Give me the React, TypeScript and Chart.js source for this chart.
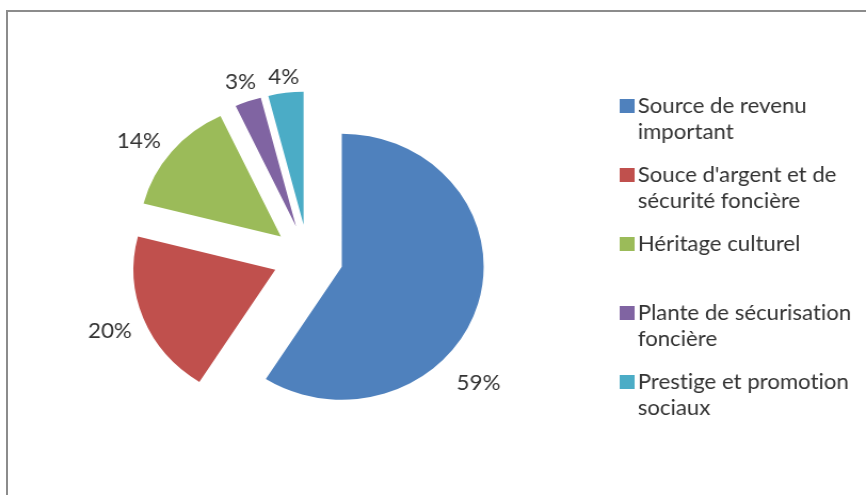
import React, { useEffect, useRef } from 'react';
import { Chart, registerables } from 'chart.js';

Chart.register(...registerables);

// ---- data ----
const categories = [
  'Source de revenu important',
  "Souce d'argent et de sécurité foncière",
  'Héritage culturel',
  'Plante de sécurisation foncière',
  'Prestige et promotion sociaux',
];
const shares = [59, 20, 14, 3, 4];
const colors = ['#4F81BD', '#C0504D', '#9BBB59', '#8064A2', '#4BACC6'];

// ---- style / layout constants ----
const CANVAS_W = 812;
const CANVAS_H = 495;
const CSS_W = 866;
const RADIUS = 133;
const EXPLODE = 33;
const FONT_FAMILY = 'Lato, "Liberation Sans", sans-serif';
const LEGEND_FONT = `20.8px ${FONT_FAMILY}`;
const LABEL_FONT = `21px ${FONT_FAMILY}`;
const TEXT_COLOR = '#333333';
const LABEL_SHIFT_DEG = [26, 0, -4, 0, 0];
const LABEL_GAP = [20, 12, 10, 9, 7];
const LEGEND_SWATCH_X = 581;
const LEGEND_TEXT_X = 598;
const LEGEND_TOP = 106;
const LEGEND_STEP = 69;
const LEGEND_LINE = 26;
const LEGEND_WRAP = 212;
const SWATCH = 14;

function noLigatures(ctx: CanvasRenderingContext2D) {
  if ('letterSpacing' in ctx) (ctx as any).letterSpacing = '0.01px';
}

function wrapText(ctx: CanvasRenderingContext2D, text: string, maxW: number): string[] {
  const words = text.split(' ');
  const lines: string[] = [];
  let cur = '';
  for (const w of words) {
    const test = cur ? cur + ' ' + w : w;
    if (cur && ctx.measureText(test).width > maxW) {
      lines.push(cur);
      cur = w;
    } else {
      cur = test;
    }
  }
  if (cur) lines.push(cur);
  return lines;
}

const explodePlugin = {
  id: 'explodeSlices',
  beforeDatasetDraw(chart: any, args: any) {
    const ctx = chart.ctx as CanvasRenderingContext2D;
    const arcs = args.meta.data;
    arcs.forEach((arc: any) => {
      const mid = (arc.startAngle + arc.endAngle) / 2;
      ctx.save();
      ctx.translate(Math.cos(mid) * EXPLODE, Math.sin(mid) * EXPLODE);
      arc.draw(ctx, chart.chartArea);
      ctx.restore();
    });
    return false;
  },
};

const labelPlugin = {
  id: 'pctLabels',
  afterDatasetsDraw(chart: any) {
    const ctx = chart.ctx as CanvasRenderingContext2D;
    const meta = chart.getDatasetMeta(0);
    const data = chart.data.datasets[0].data as number[];
    const total = data.reduce((a, b) => a + b, 0);
    ctx.save();
    ctx.font = LABEL_FONT;
    noLigatures(ctx);
    ctx.fillStyle = TEXT_COLOR;
    ctx.textAlign = 'center';
    ctx.textBaseline = 'middle';
    meta.data.forEach((arc: any, i: number) => {
      const mid = (arc.startAngle + arc.endAngle) / 2;
      const cx = arc.x + Math.cos(mid) * EXPLODE;
      const cy = arc.y + Math.sin(mid) * EXPLODE;
      const ang = mid + (LABEL_SHIFT_DEG[i] * Math.PI) / 180;
      const text = Math.round((data[i] / total) * 100) + '%';
      const w = ctx.measureText(text).width;
      const h = 14;
      const ext = Math.abs(Math.cos(ang)) * w / 2 + Math.abs(Math.sin(ang)) * h / 2;
      const d = arc.outerRadius + LABEL_GAP[i] + ext;
      ctx.fillText(text, cx + Math.cos(ang) * d, cy + Math.sin(ang) * d);
    });
    ctx.restore();
  },
};

const legendPlugin = {
  id: 'wrappedLegend',
  afterDraw(chart: any) {
    const ctx = chart.ctx as CanvasRenderingContext2D;
    const labels = chart.data.labels as string[];
    const bg = chart.data.datasets[0].backgroundColor as string[];
    ctx.save();
    ctx.font = LEGEND_FONT;
    noLigatures(ctx);
    ctx.textAlign = 'left';
    ctx.textBaseline = 'middle';
    labels.forEach((lab, i) => {
      const y0 = LEGEND_TOP + i * LEGEND_STEP;
      ctx.fillStyle = bg[i];
      ctx.fillRect(LEGEND_SWATCH_X, y0 - SWATCH / 2, SWATCH, SWATCH);
      ctx.fillStyle = TEXT_COLOR;
      const lines = wrapText(ctx, lab, LEGEND_WRAP);
      lines.forEach((ln, j) => {
        ctx.fillText(ln, LEGEND_TEXT_X, y0 + j * LEGEND_LINE);
      });
    });
    ctx.restore();
  },
};

export default function App() {
  const ref = useRef<HTMLCanvasElement | null>(null);

  useEffect(() => {
    const canvas = ref.current;
    if (!canvas) return;
    const chart = new Chart(canvas, {
      type: 'pie',
      data: {
        labels: categories,
        datasets: [
          {
            data: shares,
            backgroundColor: colors,
            borderWidth: 0,
            hoverOffset: 0,
            radius: RADIUS,
          } as any,
        ],
      },
      options: {
        responsive: false,
        animation: false,
        devicePixelRatio: 1,
        layout: { padding: { left: 0, right: CANVAS_W - 2 * 288.8, top: 20, bottom: 0 } },
        plugins: {
          legend: { display: false },
          title: { display: false },
          tooltip: { enabled: false },
        },
        events: [],
      } as any,
      plugins: [explodePlugin, labelPlugin, legendPlugin],
    });
    let alive = true;
    if ((document as any).fonts && (document as any).fonts.load) {
      (document as any).fonts.load(LEGEND_FONT).then(() => {
        if (alive) chart.draw();
      });
    }
    return () => {
      alive = false;
      chart.destroy();
    };
  }, []);

  return (
    <div style={{ position: 'fixed', left: 0, top: 0, right: 0, bottom: 0, overflow: 'hidden', background: '#fff' }}>
      <div
        style={{
          position: 'absolute',
          left: 6,
          top: 10,
          width: 1000,
          height: 1000,
          border: '2px solid #8c8c8c',
          boxSizing: 'border-box',
        }}
      />
      <canvas
        ref={ref}
        width={CANVAS_W}
        height={CANVAS_H}
        style={{ position: 'absolute', left: 0, top: 0, width: CSS_W + 'px', height: CANVAS_H + 'px' }}
      />
    </div>
  );
}
